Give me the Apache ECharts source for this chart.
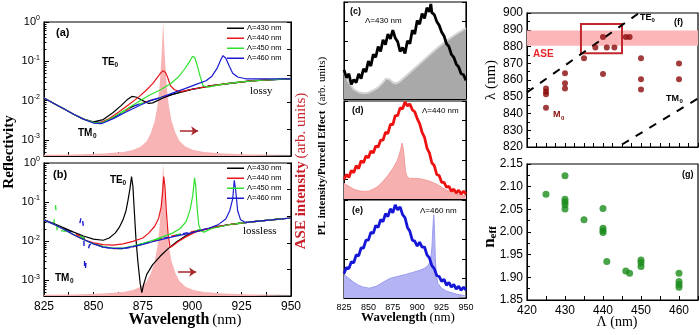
<!DOCTYPE html>
<html>
<head>
<meta charset="utf-8">
<title>ASE / reflectivity panels</title>
<script src="https://cdn.jsdelivr.net/npm/echarts@6/dist/echarts.min.js"></script>
<style>html,body{margin:0;background:#fff;}</style>
</head>
<body>
<div id="main" style="width:700px;height:335px;"></div>
<script>
// ---- data ----
var WL = [825, 950];
var R_MIN = 0.000392;

// (a) lossy reflectivity, [wavelength nm, R]
var A430 = [[825,0.0117],[830,0.0085],[835,0.0062],[840,0.0045],[845,0.0034],[850,0.0029],[855,0.0033],[860,0.0050],[864,0.0075],[867,0.0105],[869.5,0.0128],[872,0.0122],[875,0.0100],[878,0.0085],[880,0.0088],[885,0.0115],[890,0.0145],[900,0.0195],[910,0.024],[920,0.028],[930,0.032],[940,0.034],[950,0.036]];
var A440 = [[825,0.0117],[830,0.0085],[835,0.0062],[840,0.0045],[845,0.0034],[850,0.0028],[853,0.0027],[858,0.0035],[863,0.0052],[868,0.0080],[873,0.0125],[877,0.019],[880,0.027],[882,0.037],[884,0.05],[885.3,0.058],[886.5,0.052],[887.5,0.04],[889,0.024],[891,0.019],[894,0.017],[900,0.0195],[910,0.024],[920,0.028],[930,0.032],[940,0.034],[950,0.036]];
var A450 = [[825,0.0117],[830,0.0085],[835,0.0062],[840,0.0045],[845,0.0034],[850,0.0028],[854,0.0027],[860,0.0038],[866,0.0058],[872,0.0088],[878,0.0135],[884,0.019],[889,0.027],[893,0.04],[896,0.062],[898.5,0.095],[900.2,0.135],[901.3,0.125],[902.5,0.08],[904,0.042],[905.5,0.024],[908,0.022],[915,0.026],[925,0.030],[935,0.033],[950,0.036]];
var A460 = [[825,0.0117],[830,0.0085],[835,0.0062],[840,0.0045],[845,0.0034],[850,0.0027],[854,0.0026],[860,0.0035],[866,0.0050],[872,0.0070],[878,0.0097],[884,0.012],[890,0.0155],[896,0.020],[902,0.026],[907,0.032],[910,0.042],[912.5,0.065],[914.3,0.105],[915.6,0.14],[917,0.12],[918.8,0.075],[920.5,0.05],[923,0.04],[927,0.036],[935,0.036],[950,0.036]];
var A_TM = [[850,0.0029],[855,0.0028],[860,0.0036],[865,0.0050],[870,0.0072],[875,0.0088],[880,0.0105],[890,0.0145],[900,0.0195],[910,0.024],[920,0.028],[930,0.032],[940,0.034],[950,0.036]];

// (b) lossless reflectivity
var B430 = [[825,0.035],[830,0.028],[835,0.022],[840,0.017],[845,0.0135],[850,0.0112],[855,0.0105],[858,0.012],[861,0.016],[863,0.022],[865,0.035],[866.5,0.06],[867.5,0.11],[868.5,0.22],[869.3,0.45],[870,0.25],[870.7,0.06],[871.5,0.012],[872.5,0.003],[873.7,0.0008],[874.5,0.00048],[875.5,0.0008],[877,0.0014],[880,0.0025],[884,0.0042],[888,0.0065],[892,0.0095],[896,0.013],[900,0.0165],[905,0.019],[910,0.022],[920,0.027],[930,0.031],[940,0.035],[950,0.039]];
var B440 = [[825,0.035],[830,0.027],[835,0.02],[840,0.0145],[845,0.011],[850,0.009],[855,0.0081],[860,0.0079],[865,0.0085],[870,0.0098],[875,0.012],[878,0.016],[881,0.024],[883,0.038],[884.3,0.075],[885,0.17],[885.6,0.45],[886.2,0.25],[886.9,0.06],[887.8,0.015],[888.8,0.0068],[890,0.0075],[893,0.0098],[897,0.013],[902,0.0175],[910,0.022],[920,0.027],[930,0.031],[940,0.035],[950,0.039]];
var B450 = [[825,0.035],[830,0.027],[835,0.02],[840,0.0145],[845,0.011],[850,0.0085],[855,0.0072],[860,0.0066],[865,0.0066],[870,0.0074],[875,0.0087],[880,0.0104],[885,0.0128],[890,0.016],[894,0.021],[897,0.032],[899,0.065],[900.3,0.15],[901.2,0.42],[901.8,0.25],[902.5,0.07],[903.3,0.026],[904.5,0.018],[906,0.017],[910,0.021],[920,0.027],[930,0.031],[940,0.035],[950,0.039]];
var B460 = [[825,0.035],[830,0.027],[835,0.02],[840,0.0145],[845,0.011],[850,0.0085],[855,0.007],[860,0.0065],[865,0.0065],[870,0.0072],[875,0.0082],[880,0.0096],[890,0.0128],[900,0.0165],[908,0.021],[913,0.026],[917,0.037],[919,0.06],[920.5,0.12],[921.3,0.36],[922,0.2],[923,0.06],[924.5,0.035],[927,0.030],[935,0.033],[950,0.039]];
var B_TM = [[825,0.035],[830,0.027],[835,0.021],[840,0.016],[845,0.012],[850,0.0088],[855,0.0070],[860,0.0064],[865,0.0064],[870,0.0071],[875,0.0085],[880,0.0100],[890,0.0135],[900,0.0175],[910,0.022],[920,0.027],[930,0.031],[940,0.035],[950,0.039]];
var B_TM450 = [[825,0.035],[828,0.03],[830,0.028],[830.8,0.085],[831.3,0.045],[831.8,0.013],[832.6,0.019],[835,0.018],[840,0.016],[845,0.012],[850,0.0088],[855,0.0070],[860,0.0064],[865,0.0064],[870,0.0071],[875,0.0085],[880,0.0100],[890,0.0135],[900,0.0175],[910,0.022],[920,0.027],[930,0.031],[940,0.035],[950,0.039]];
var B_TM460 = [[825,0.035],[830,0.027],[835,0.021],[840,0.016],[842.5,0.02],[843.5,0.035],[844.2,0.055],[845,0.02],[845.7,0.0014],[846.5,0.004],[848,0.008],[850,0.0088],[855,0.0070],[860,0.0064],[865,0.0064],[870,0.0071],[875,0.0085],[880,0.0100],[890,0.0135],[900,0.0175],[910,0.022],[920,0.027],[930,0.031],[940,0.035],[950,0.039]];

// ASE spectrum (right axis, arb. units)
var ASE = [[825,0.01],[840,0.012],[855,0.018],[865,0.03],[870,0.045],[874,0.07],[877,0.11],[879,0.17],[881,0.26],[882.5,0.38],[883.5,0.52],[884.5,0.75],[885.3,1.0],[886.1,0.75],[887.1,0.52],[888.1,0.38],[889.6,0.26],[891.6,0.17],[893.6,0.11],[896.6,0.07],[900.6,0.045],[906,0.03],[916,0.018],[930,0.012],[950,0.01]];
var ARROW_A = [[893.8,0.187],[903,0.187]];
var ARROW_B = [[892.8,0.18],[902,0.18]];

// (c)(d)(e) PL and Purcell
var PL430 = [[825,0.30],[827.5,0.22],[830,0.26],[832.5,0.15],[835,0.20],[837.5,0.17],[840,0.26],[842.5,0.21],[845,0.31],[847.5,0.28],[850,0.39],[852.5,0.34],[855,0.46],[857.5,0.43],[860,0.54],[862.5,0.49],[865,0.61],[867.5,0.56],[870,0.67],[872.5,0.62],[875,0.71],[877.5,0.63],[880,0.59],[882.5,0.49],[885,0.53],[887.5,0.47],[890,0.60],[892.5,0.57],[895,0.71],[897.5,0.67],[900,0.81],[902.5,0.77],[905,0.88],[907.5,0.83],[910,0.94],[912.5,0.90],[914,0.98],[915,0.89],[917.5,0.87],[920,0.80],[922.5,0.76],[925,0.69],[927.5,0.65],[930,0.57],[932.5,0.54],[935,0.46],[937.5,0.43],[940,0.36],[942.5,0.33],[945,0.26],[947.5,0.25],[950,0.19]];
var PF430 = [[825,0.27],[830,0.17],[835,0.1],[840,0.07],[845,0.06],[850,0.065],[855,0.09],[860,0.12],[865,0.17],[868,0.21],[870,0.22],[872,0.2],[875,0.17],[878,0.16],[882,0.18],[890,0.25],[900,0.34],[910,0.43],[920,0.52],[930,0.6],[940,0.67],[950,0.73]];
var PL440 = [[825,0.20],[827.5,0.25],[830,0.22],[832.5,0.29],[835,0.27],[837.5,0.34],[840,0.31],[842.5,0.39],[845,0.37],[847.5,0.44],[850,0.42],[852.5,0.49],[855,0.47],[857.5,0.54],[860,0.53],[862.5,0.60],[865,0.60],[867.5,0.68],[870,0.67],[872.5,0.76],[875,0.76],[877.5,0.85],[880,0.85],[882.5,0.93],[885,0.92],[887.5,0.99],[890,0.95],[892.5,0.97],[895,0.91],[897.5,0.89],[900,0.82],[902.5,0.77],[905,0.68],[907.5,0.63],[910,0.52],[912.5,0.47],[915,0.37],[917.5,0.34],[920,0.25],[922.5,0.24],[925,0.17],[927.5,0.17],[930,0.12],[932.5,0.13],[935,0.08],[937.5,0.10],[940,0.06],[942.5,0.09],[945,0.05],[947.5,0.08],[950,0.05]];
var PF440 = [[825,0.16],[830,0.13],[835,0.1],[840,0.085],[845,0.077],[850,0.08],[855,0.1],[860,0.13],[865,0.18],[870,0.24],[875,0.31],[879,0.38],[881,0.43],[883,0.5],[884.5,0.57],[885.2,0.58],[886,0.5],[887,0.38],[888,0.28],[889.5,0.23],[892,0.21],[900,0.21],[906,0.2],[913,0.18],[920,0.15],[925,0.12],[930,0.09],[940,0.05],[950,0.03]];
var PL460 = [[825,0.25],[827.5,0.31],[830,0.30],[832.5,0.37],[835,0.36],[837.5,0.44],[840,0.43],[842.5,0.51],[845,0.51],[847.5,0.59],[850,0.59],[852.5,0.67],[855,0.66],[857.5,0.74],[860,0.72],[862.5,0.80],[865,0.78],[867.5,0.86],[870,0.83],[872.5,0.91],[875,0.87],[877.5,0.95],[880,0.90],[882.5,0.93],[885,0.85],[887.5,0.82],[890,0.72],[892.5,0.68],[895,0.59],[897.5,0.58],[900,0.53],[902.5,0.57],[905,0.52],[907.5,0.52],[910,0.44],[912.5,0.41],[915,0.33],[917.5,0.30],[920,0.23],[922.5,0.22],[925,0.17],[927.5,0.19],[930,0.13],[932.5,0.16],[935,0.11],[937.5,0.14],[940,0.09],[942.5,0.12],[945,0.08],[947.5,0.11],[950,0.08]];
var PF460 = [[825,0.24],[830,0.2],[835,0.16],[840,0.13],[845,0.11],[851,0.1],[858,0.12],[865,0.16],[872,0.2],[880,0.22],[888,0.24],[895,0.26],[902,0.28],[907,0.3],[911,0.33],[913.5,0.38],[915,0.5],[916.3,0.75],[917,0.85],[917.7,0.7],[918.5,0.42],[919.5,0.25],[921,0.15],[925,0.1],[930,0.07],[940,0.04],[950,0.02]];

// (f) resonance wavelength vs period
var F_MODES = [[425,855],[425,853],[425,851.5],[425,843.5],[430,864],[430,858],[430,855],[435,873],[438,879.4],[440,885.6],[440,863.6],[441,879.4],[443,879.4],[446,885.6],[447,885.6],[450,873],[450,860.4],[450,854.4],[460,869.8],[460,860.4]];
var TE0_LINE = [[420,852.6],[449.5,900]];
var TM0_LINE = [[445,821.5],[465,849]];
var ASE_BAND = [880.4, 889.5];
var BOX_F = [[434.2,876],[445,893.4]];

// (g) effective index vs period
var G_NEFF = [[425,2.083],[430,2.124],[430,2.072],[430,2.066],[430,2.06],[430,2.051],[435,2.027],[440,2.052],[440,2.008],[440,2.003],[440,1.999],[441,1.935],[446,1.914],[447,1.909],[450,1.938],[450,1.932],[450,1.924],[460,1.909],[460,1.891],[460,1.884],[460,1.878]];

var LAMBDAS = ['Λ=430 nm','Λ=440 nm','Λ=450 nm','Λ=460 nm'];
var COLORS = ['#000000','#e8161c','#2fe02f','#1a1ad0'];

// ---- helpers ----
var SANS = 'Liberation Sans', SERIF = 'Liberation Serif';
var BLACK = {color:'#000', width:1};

function grid(l, t, w, h) {
  return {left:l, top:t, width:w, height:h, show:true, borderColor:'#000', borderWidth:1.2,
          backgroundColor:'rgba(0,0,0,0)', containLabel:false, outerBoundsMode:'none'};
}
function wlAxis(gi, labels, size) {
  return {type:'value', gridIndex:gi, min:WL[0], max:WL[1], interval:25,
    axisLine:{lineStyle:BLACK}, splitLine:{show:false},
    axisTick:{inside:true, length:4, lineStyle:BLACK},
    minorTick:{show:true, splitNumber:2, length:4, lineStyle:BLACK},
    axisLabel:{show:labels, color:'#000', fontFamily:SANS, fontSize:size, margin:5}};
}
function logAxis(gi) {
  return {type:'log', logBase:10, gridIndex:gi, min:R_MIN, max:1,
    axisLine:{lineStyle:BLACK}, splitLine:{show:false}, minorSplitLine:{show:false},
    axisTick:{inside:true, length:5, lineStyle:BLACK},
    minorTick:{show:true, splitNumber:9, length:2.5, lineStyle:BLACK},
    axisLabel:{color:'#000', margin:4, showMinLabel:true,
      formatter:function (v) {
        var e = Math.log(v) / Math.LN10;
        if (Math.abs(e - Math.round(e)) > 0.01) return '';
        return '{b|10}{s|' + Math.round(e) + '}';
      },
      rich:{b:{fontSize:11, fontFamily:SANS, color:'#000'},
            s:{fontSize:7, fontFamily:SANS, color:'#000', padding:[0,0,7,0]}}}};
}
function linAxis(gi, pos) {
  return {type:'value', gridIndex:gi, position:pos, min:0, max:1, interval:0.2,
    axisLine:{lineStyle:BLACK}, splitLine:{show:false},
    axisTick:{inside:true, length:4, lineStyle:BLACK}, axisLabel:{show:false}};
}
function curve(name, data, color, xi, yi, dashOffset) {
  var dashed = dashOffset !== undefined;
  return {type:'line', name:name, data:data, xAxisIndex:xi, yAxisIndex:yi, symbol:'none',
    silent:true, z:3, itemStyle:{color:color},
    lineStyle:{color:color, width:dashed ? 1.4 : 1.2, type:dashed ? [5,15] : 'solid', dashOffset:dashOffset || 0}};
}
function area(data, fill, edge, xi, yi, width) {
  return {type:'line', data:data, xAxisIndex:xi, yAxisIndex:yi, symbol:'none', silent:true, z:1,
    lineStyle:{color:edge, width:width}, areaStyle:{color:fill, opacity:1}};
}
function noisy(data, color, xi, yi) {
  return {type:'line', data:data, xAxisIndex:xi, yAxisIndex:yi, symbol:'none', silent:true, z:3,
    lineStyle:{color:color, width:2.8}};
}
function arrow(pts) {
  return {silent:true, symbol:['none','arrow'], symbolSize:7, label:{show:false},
    lineStyle:{color:'#a8282d', width:1.5, type:'solid'},
    data:[[{coord:pts[0]},{coord:pts[1]}]]};
}
function T(x, y, text, o) {
  o = o || {};
  return {type:'text', x:x, y:y, rotation:o.rot || 0, z:100, silent:true,
    style:{text:text, fill:o.color || '#000', fontSize:o.size || 10, fontWeight:o.weight || 'normal',
      fontFamily:o.family || SANS, align:o.align || 'left', verticalAlign:'middle',
      textAlign:o.align || 'left', textVerticalAlign:'middle', rich:o.rich}};
}
function legend(top) {
  return {data:LAMBDAS, orient:'vertical', left:227, top:top, icon:'rect', itemWidth:17, itemHeight:1.5,
    itemGap:1.5, padding:0, selectedMode:false,
    textStyle:{fontSize:7.5, fontFamily:SANS, color:'#000', lineHeight:8.5, padding:[0,0,0,-2]}};
}

var series = [];
// (a)
series.push(area(ASE, '#f8b4b4', '#f8b4b4', 0, 1, 0));
series[series.length - 1].markLine = arrow(ARROW_A);
[A430, A440, A450, A460].forEach(function (d, i) { series.push(curve('tmA' + i, A_TM, COLORS[i], 0, 0, i * 5)); });
[A430, A440, A450, A460].forEach(function (d, i) { series.push(curve(LAMBDAS[i], d, COLORS[i], 0, 0)); });
// (b)
series.push(area(ASE, '#f8b4b4', '#f8b4b4', 1, 3, 0));
series[series.length - 1].markLine = arrow(ARROW_B);
[B_TM, B_TM, B_TM450, B_TM460].forEach(function (d, i) { series.push(curve('tmB' + i, d, COLORS[i], 1, 2, i * 5)); });
[B430, B440, B450, B460].forEach(function (d, i) { series.push(curve(LAMBDAS[i], d, COLORS[i], 1, 2)); });
// (c)(d)(e)
series.push(area(PF430, '#a9a9a9', '#d4d4d4', 2, 4, 2));
series.push(noisy(PL430, '#000', 2, 4));
series.push(area(PF440, '#f6b0b0', '#f39a9a', 3, 6, 1));
series.push(noisy(PL440, '#ee1111', 3, 6));
series.push(area(PF460, '#b4b4f4', '#9a9af0', 4, 8, 1));
series.push(noisy(PL460, '#1616d6', 4, 8));
// (f)
series.push({type:'line', data:TE0_LINE, xAxisIndex:5, yAxisIndex:10, symbol:'none', silent:true, z:2,
  lineStyle:{color:'#000', width:2, type:[8,8]},
  markArea:{silent:true, data:[
    [{xAxis:420, yAxis:ASE_BAND[0], itemStyle:{color:'#fdb6b8'}}, {xAxis:465, yAxis:ASE_BAND[1]}],
    [{xAxis:BOX_F[0][0], yAxis:BOX_F[0][1], itemStyle:{color:'rgba(0,0,0,0)', borderColor:'#c0282d', borderWidth:2}},
     {xAxis:BOX_F[1][0], yAxis:BOX_F[1][1]}]]}});
series.push({type:'line', data:TM0_LINE, xAxisIndex:5, yAxisIndex:10, symbol:'none', silent:true, z:2,
  lineStyle:{color:'#000', width:2, type:[8,8]}});
series.push({type:'scatter', data:F_MODES, xAxisIndex:5, yAxisIndex:10, symbolSize:6, z:5, silent:true,
  itemStyle:{color:'#8b0a0a'}});
// (g)
series.push({type:'scatter', data:G_NEFF, xAxisIndex:6, yAxisIndex:11, symbolSize:7, z:5, silent:true,
  itemStyle:{color:'#1c8c1c'}});

var periodAxis = function (gi, labels) {
  return {type:'value', gridIndex:gi, min:420, max:465, interval:labels ? 5 : 2.5,
    axisLine:{lineStyle:BLACK}, splitLine:{show:false},
    axisTick:{inside:true, length:4, lineStyle:BLACK, interval:0},
    axisLabel:{show:labels, interval:0, color:'#000', fontFamily:SANS, fontSize:12, margin:5,
      formatter:function (v) { return v % 10 === 0 && v <= 460 ? String(v) : ''; }}};
};

var option = {
  animation:false,
  backgroundColor:'#fff',
  grid:[grid(44,22,247,134), grid(44,163,247,133), grid(344,2,122,97), grid(344,101,122,98),
        grid(344,200,122,98), grid(527,13,171,134), grid(527,164,171,136)],
  xAxis:[wlAxis(0,false,11), wlAxis(1,true,12), wlAxis(2,false,9), wlAxis(3,false,9), wlAxis(4,true,9),
         periodAxis(5,false), periodAxis(6,true)],
  yAxis:[logAxis(0), linAxis(0,'right'), logAxis(1), linAxis(1,'right'),
         linAxis(2,'left'), linAxis(2,'right'), linAxis(3,'left'), linAxis(3,'right'),
         linAxis(4,'left'), linAxis(4,'right'),
         {type:'value', gridIndex:5, min:820, max:900, interval:10, axisLine:{lineStyle:BLACK}, splitLine:{show:false},
          axisTick:{inside:true, length:4, lineStyle:BLACK}, minorTick:{show:true, splitNumber:2, length:3, lineStyle:BLACK},
          axisLabel:{color:'#000', fontFamily:SANS, fontSize:12, margin:4}},
         {type:'value', gridIndex:6, min:1.85, max:2.15, interval:0.05, axisLine:{lineStyle:BLACK}, splitLine:{show:false},
          axisTick:{inside:true, length:4, lineStyle:BLACK}, minorTick:{show:true, splitNumber:2, length:3, lineStyle:BLACK},
          axisLabel:{color:'#000', fontFamily:SANS, fontSize:12, margin:4,
                     formatter:function (v) { return v.toFixed(2); }}}],
  legend:[legend(24), legend(164)],
  series:series,
  graphic:[
    T(9, 152, 'Reflectivity', {rot:Math.PI/2, size:15, weight:'bold', family:SERIF, align:'center'}),
    T(185, 320, '{b|Wavelength} {n|(nm)}', {align:'center', rich:{
      b:{fontSize:16, fontWeight:'bold', fontFamily:SERIF, fill:'#000'}, n:{fontSize:15, fontFamily:SERIF, fill:'#000'}}}),
    T(301, 171, '{b|ASE intensity} {n|(arb. units)}', {rot:Math.PI/2, align:'center', rich:{
      b:{fontSize:15, fontWeight:'bold', fontFamily:SERIF, fill:'#c8202a'}, n:{fontSize:15, fontFamily:SERIF, fill:'#c8202a'}}}),
    T(322, 146, '{b|PL intensity/Purcell Effect}  {n|(arb. units)}', {rot:Math.PI/2, align:'center', rich:{
      b:{fontSize:11, fontWeight:'bold', fontFamily:SERIF, fill:'#000'}, n:{fontSize:11, fontFamily:SERIF, fill:'#000'}}}),
    T(408, 318, '{b|Wavelength} {n|(nm)}', {align:'center', rich:{
      b:{fontSize:13, fontWeight:'bold', fontFamily:SERIF, fill:'#000'}, n:{fontSize:13, fontFamily:SERIF, fill:'#000'}}}),
    T(491, 80, 'λ (nm)', {rot:Math.PI/2, size:15, family:SERIF, align:'center'}),
    T(490, 237, '{b|n}{s|eff}', {rot:Math.PI/2, align:'center', rich:{
      b:{fontSize:17, fontWeight:'bold', fontFamily:SERIF, fill:'#000'},
      s:{fontSize:11, fontWeight:'bold', fontFamily:SERIF, fill:'#000', padding:[6,0,0,0]}}}),
    T(617, 322, 'Λ (nm)', {size:14, family:SERIF, align:'center'}),
    // panel (a)
    T(56, 33, '(a)', {size:11, weight:'bold'}),
    T(102, 62, 'TE', {size:10, weight:'bold'}), T(114.5, 65, '0', {size:6.5, weight:'bold'}),
    T(78, 133, 'TM', {size:10, weight:'bold'}), T(93, 136, '0', {size:6.5, weight:'bold'}),
    T(250, 91, 'lossy', {size:11, family:SERIF}),
    // panel (b)
    T(53, 175, '(b)', {size:11, weight:'bold'}),
    T(110, 180, 'TE', {size:10, weight:'bold'}), T(122.5, 183, '0', {size:6.5, weight:'bold'}),
    T(55, 278, 'TM', {size:10, weight:'bold'}), T(70, 281, '0', {size:6.5, weight:'bold'}),
    T(243, 231, 'lossless', {size:11, family:SERIF}),
    // panels (c)(d)(e)
    T(350, 12, '(c)', {size:9, weight:'bold'}), T(365, 21, 'Λ=430 nm', {size:8}),
    T(352, 111, '(d)', {size:9, weight:'bold'}), T(422, 111, 'Λ=440 nm', {size:8}),
    T(352, 211, '(e)', {size:9, weight:'bold'}), T(420, 211, 'Λ=460 nm', {size:8}),
    // panel (f)
    T(640, 18, 'TE', {size:9, weight:'bold'}), T(651.5, 20, '0', {size:6, weight:'bold'}),
    T(674, 23, '(f)', {size:9, weight:'bold'}),
    T(533, 54, 'ASE', {size:10, weight:'bold', color:'#e8262b'}),
    T(553, 115, 'M', {size:9, weight:'bold', color:'#8b0a0a'}), T(561, 118, '0', {size:6, weight:'bold', color:'#8b0a0a'}),
    T(666, 99, 'TM', {size:9, weight:'bold'}), T(679.5, 101, '0', {size:6, weight:'bold'}),
    // panel (g)
    T(682, 175, '(g)', {size:9, weight:'bold'})
  ]
};

var chart = echarts.init(document.getElementById('main'), null, {renderer:'canvas'});
chart.setOption(option);
</script>
</body>
</html>
